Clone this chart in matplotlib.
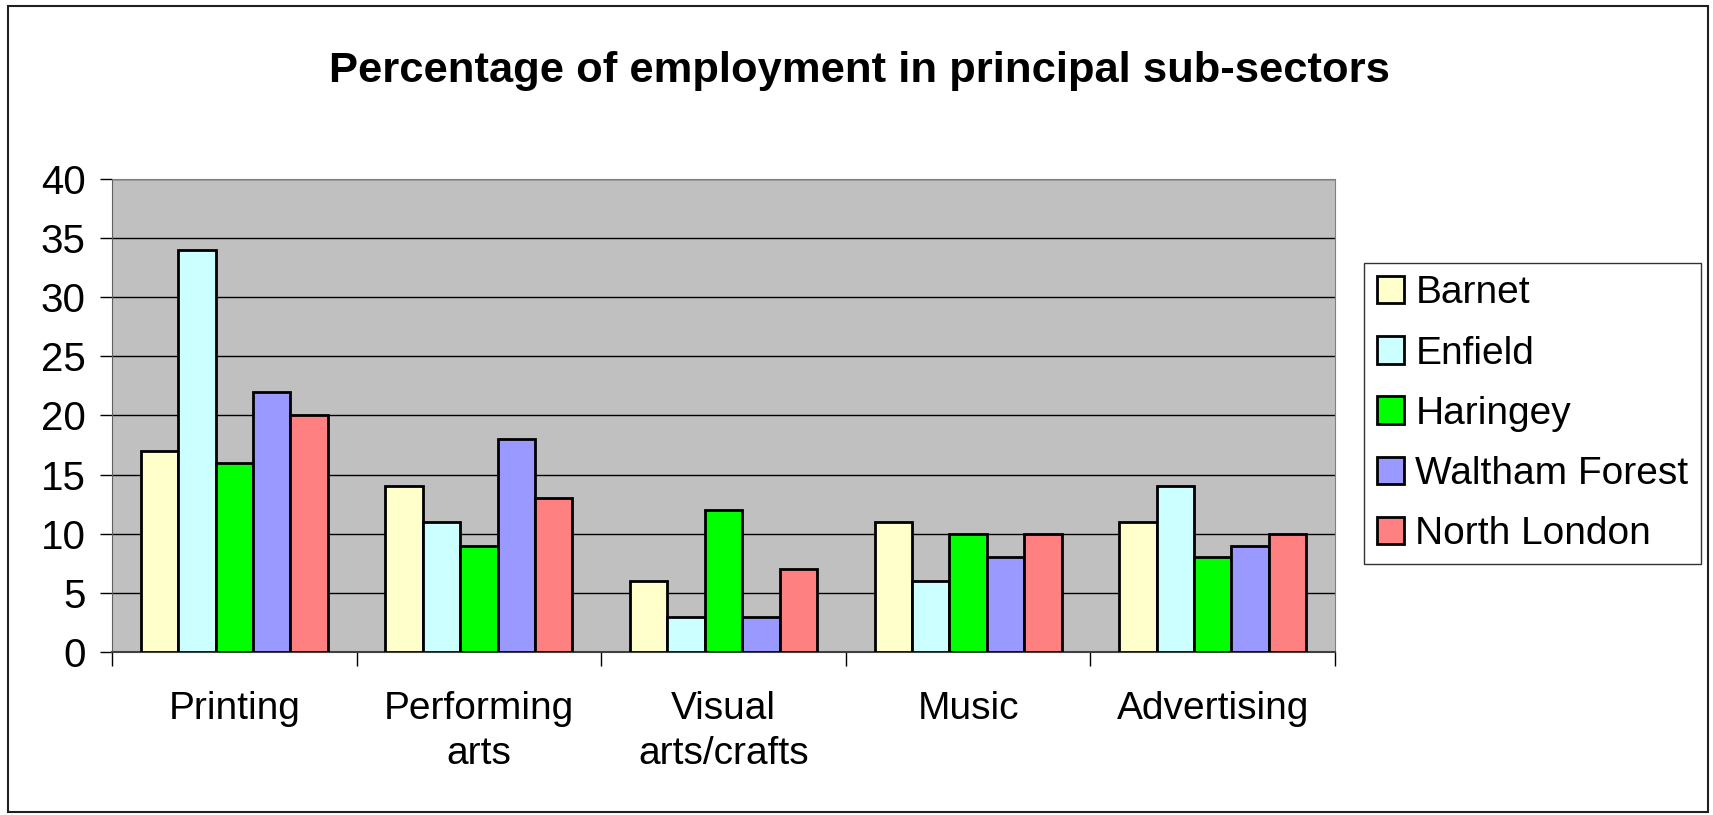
import numpy as np
import matplotlib
matplotlib.use("Agg")
import matplotlib.pyplot as plt
from matplotlib.patches import Rectangle

# -----------------------------
# Data
# -----------------------------
categories = ["Printing", "Performing\narts", "Visual\narts/crafts", "Music", "Advertising"]
series_names = ["Barnet", "Enfield", "Haringey", "Waltham Forest", "North London"]
barnet = [17, 14, 6, 11, 11]
enfield = [34, 11, 3, 6, 14]
haringey = [16, 9, 12, 10, 8]
waltham_forest = [22, 18, 3, 8, 9]
north_london = [20, 13, 7, 10, 10]
yticks = [0, 5, 10, 15, 20, 25, 30, 35, 40]

series = [barnet, enfield, haringey, waltham_forest, north_london]
colors = ["#FFFFCC", "#CCFFFF", "#00FF00", "#9999FF", "#FF8080"]

plt.rcParams['font.family'] = ['Liberation Sans', 'DejaVu Sans']

fig = plt.figure(figsize=(17.13, 8.15), dpi=100)
ax = fig.add_axes([0.0654, 0.2, 0.7139, 0.5804])
ax.set_facecolor("#C0C0C0")

x = np.arange(len(categories))
bw = 0.153
for i, (vals, name, col) in enumerate(zip(series, series_names, colors)):
    ax.bar(x + (i - 2) * bw, vals, width=bw, color=col, edgecolor="black",
           linewidth=2, label=name, zorder=3)

ax.set_xlim(-0.5, 4.5)
ax.set_ylim(0, 40)
ax.set_yticks(yticks)
ax.yaxis.grid(True, color="black", linewidth=1, zorder=1)
ax.tick_params(axis="y", labelsize=29, length=9, width=1, pad=10, direction="out")

ax.set_xticks(x)
ax.set_xticklabels(categories, fontsize=28, linespacing=1.33)
ax.tick_params(axis="x", which="major", length=0, pad=28)
ax.set_xticks(np.arange(-0.5, 5.0, 1.0), minor=True)
ax.tick_params(axis="x", which="minor", length=10, width=1, direction="out")

for side in ["top", "right"]:
    ax.spines[side].set_color("#808080")
ax.spines["left"].set_color("#606060")
ax.spines["bottom"].set_color("#404040")
ax.spines["bottom"].set_linewidth(1.5)

fig.text(0.502, 0.913, "Percentage of employment in principal sub-sectors",
         ha="center", va="center", fontsize=31.3, fontweight="bold")

leg = ax.legend(loc="upper left", bbox_to_anchor=(0.7963, 0.6773),
                bbox_transform=fig.transFigure, borderaxespad=0,
                fontsize=28, frameon=True, fancybox=False, edgecolor="black",
                handlelength=0.7, handleheight=0.7, handletextpad=0.3,
                labelspacing=0.62, borderpad=0.32)
leg.get_frame().set_linewidth(1)

fig.patches.append(Rectangle((8 / 1713, 3 / 815), 1700 / 1713, 806 / 815,
                             transform=fig.transFigure, fill=False,
                             edgecolor="#202020", linewidth=1.5))

plt.savefig("out.png", dpi=100)
